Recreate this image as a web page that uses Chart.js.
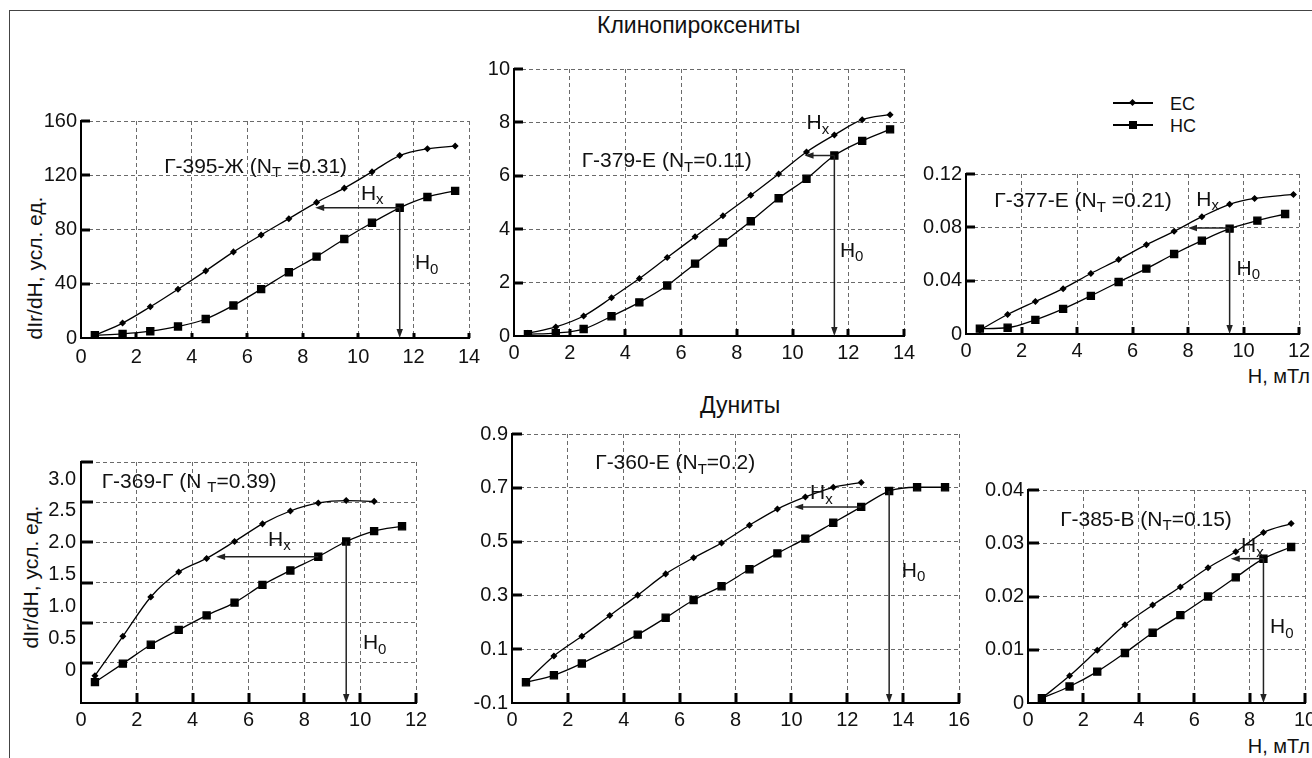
<!DOCTYPE html>
<html>
<head>
<meta charset="utf-8">
<script src="https://cdn.jsdelivr.net/npm/chart.js@4.4.1/dist/chart.umd.min.js"></script>
<style>
html, body { margin: 0; padding: 0; background: #fff; overflow: hidden; }
body { width: 1312px; height: 758px; position: relative; font-family: 'Liberation Sans', Arial, sans-serif; color: #111; }
.frame { position: absolute; left: 9px; top: 10px; right: -5px; bottom: -5px; border-left: 1.5px solid #444; border-top: 1.5px solid #444; }
canvas.p { position: absolute; }
.t { position: absolute; white-space: nowrap; line-height: 1; }
.yt { position: absolute; white-space: nowrap; line-height: 1; font-size: 21px; transform: translate(-50%, -50%) rotate(-90deg); }
.lg { position: absolute; height: 1.5px; width: 40px; background: #000; }
.mk { position: absolute; background: #000; }
</style>
</head>
<body>
<div class="frame"></div>
<div class="t" style="left:597px; top:14px; font-size:23px">Клинопироксениты</div>
<div class="t" style="left:700px; top:394px; font-size:23px">Дуниты</div>
<div class="yt" style="left:34px; top:268px">dIr/dH, усл. ед.</div>
<div class="yt" style="left:30px; top:577px">dIr/dH, усл. ед.</div>
<div class="t" style="right:2px; top:366px; font-size:20px">Н, мТл</div>
<div class="t" style="right:2px; top:736px; font-size:20px">Н, мТл</div>

<!-- legend -->
<div class="lg" style="left:1113px; top:102px"></div>
<div class="mk" style="left:1130px; top:99.5px; width:5px; height:5px; transform:rotate(45deg)"></div>
<div class="t" style="left:1170px; top:95px; font-size:18px">ЕС</div>
<div class="lg" style="left:1113px; top:124px"></div>
<div class="mk" style="left:1129px; top:121px; width:8px; height:8px"></div>
<div class="t" style="left:1170px; top:117px; font-size:18px">НС</div>

<script>
// --- данные: H (мТл) и dIr/dH для ЕС и НС ---
// Г-395-Ж
const hEc1 = [0.5, 1.5, 2.5, 3.5, 4.5, 5.5, 6.5, 7.5, 8.5, 9.5, 10.5, 11.5, 12.5, 13.5];
const ec1 = [2, 11, 23, 36, 49.5, 63.5, 76, 88, 100, 110.5, 122.5, 134.5, 139.5, 141.5];
const hNc1 = [0.5, 1.5, 2.5, 3.5, 4.5, 5.5, 6.5, 7.5, 8.5, 9.5, 10.5, 11.5, 12.5, 13.5];
const nc1 = [2, 3, 5, 8.5, 14, 24, 36, 48.5, 60, 73, 85, 96, 104, 108.5];
// Г-379-Е
const hEc2 = [0.5, 1.5, 2.5, 3.5, 4.5, 5.5, 6.5, 7.5, 8.5, 9.5, 10.5, 11.5, 12.5, 13.5];
const ec2 = [0.1, 0.34, 0.75, 1.43, 2.15, 2.94, 3.72, 4.5, 5.27, 6.07, 6.89, 7.53, 8.1, 8.29];
const hNc2 = [0.5, 1.5, 2.5, 3.5, 4.5, 5.5, 6.5, 7.5, 8.5, 9.5, 10.5, 11.5, 12.5, 13.5];
const nc2 = [0.07, 0.11, 0.26, 0.74, 1.26, 1.89, 2.71, 3.5, 4.3, 5.16, 5.89, 6.76, 7.31, 7.74];
// Г-377-Е
const hEc3 = [0.5, 1.5, 2.5, 3.5, 4.5, 5.5, 6.5, 7.5, 8.5, 9.5, 10.4, 11.8];
const ec3 = [0.003, 0.0146, 0.0244, 0.034, 0.0454, 0.0558, 0.067, 0.077, 0.088, 0.0973, 0.1017, 0.1047];
const hNc3 = [0.5, 1.5, 2.5, 3.5, 4.5, 5.5, 6.5, 7.5, 8.5, 9.5, 10.5, 11.5];
const nc3 = [0.004, 0.0047, 0.0106, 0.0188, 0.0286, 0.039, 0.049, 0.06, 0.07, 0.079, 0.085, 0.09];
// Г-369-Г
const hEc4 = [0.5, 1.5, 2.5, 3.5, 4.5, 5.5, 6.5, 7.5, 8.5, 9.5, 10.5];
const ec4 = [0.34, 0.83, 1.32, 1.63, 1.8, 2.01, 2.23, 2.39, 2.49, 2.52, 2.51];
const hNc4 = [0.5, 1.5, 2.5, 3.5, 4.5, 5.5, 6.5, 7.5, 8.5, 9.5, 10.5, 11.5];
const nc4 = [0.26, 0.49, 0.725, 0.91, 1.09, 1.25, 1.47, 1.65, 1.82, 2.01, 2.14, 2.2];
// Г-360-Е
const hEc5 = [0.5, 1.5, 2.5, 3.5, 4.5, 5.5, 6.5, 7.5, 8.5, 9.5, 10.5, 11.5, 12.5];
const ec5 = [-0.023, 0.075, 0.148, 0.225, 0.301, 0.38, 0.44, 0.495, 0.561, 0.621, 0.666, 0.702, 0.72];
const hNc5 = [0.5, 1.5, 2.5, 4.5, 5.5, 6.5, 7.5, 8.5, 9.5, 10.5, 11.5, 12.5, 13.5, 14.5, 15.5];
const nc5 = [-0.023, 0.003, 0.047, 0.154, 0.217, 0.283, 0.334, 0.397, 0.456, 0.511, 0.57, 0.629, 0.688, 0.702, 0.702];
// Г-385-В
const hEc6 = [0.5, 1.5, 2.5, 3.5, 4.5, 5.5, 6.5, 7.5, 8.5, 9.5];
const ec6 = [0.0009, 0.0051, 0.0099, 0.0147, 0.0184, 0.0218, 0.0254, 0.0284, 0.032, 0.0337];
const hNc6 = [0.5, 1.5, 2.5, 3.5, 4.5, 5.5, 6.5, 7.5, 8.5, 9.5];
const nc6 = [0.0009, 0.0031, 0.0059, 0.0094, 0.0132, 0.0165, 0.02, 0.0236, 0.0271, 0.0293];

// стрелки Hx и H0: [x0, y0, x1, y1] в единицах данных
const arrows1 = [[11.5, 96, 8.45, 96], [11.5, 96, 11.5, 0]];
const arrows2 = [[11.5, 6.76, 10.43, 6.76], [11.5, 6.76, 11.5, 0]];
const arrows3 = [[9.5, 0.0795, 8.0, 0.0795], [9.5, 0.0795, 9.5, 0]];
const arrows4 = [[8.5, 1.82, 4.84, 1.82], [9.5, 2.01, 9.5, 0]];
const arrows5 = [[12.5, 0.629, 10.1, 0.629], [13.5, 0.688, 13.5, -0.1]];
const arrows6 = [[8.5, 0.0271, 7.32, 0.0271], [8.5, 0.0271, 8.5, 0]];

Chart.defaults.font.family = "'Liberation Sans', Arial, sans-serif";
Chart.defaults.font.size = 20;
Chart.defaults.color = '#111';

const YW = 80, PT = 14, PR = 20, XH = 34;

function pts(xs, ys) {
  return xs.map((x, i) => ({ x: x, y: ys[i] }));
}

// короткие риски внутрь поля графика
const inTicks = {
  id: 'inTicks',
  afterDraw(chart, args, o) {
    const ctx = chart.ctx, a = chart.chartArea;
    const sx = chart.scales.x, sy = chart.scales.y;
    ctx.save();
    ctx.strokeStyle = '#000';
    ctx.lineWidth = 3;
    sx.ticks.forEach(t => {
      if (t.value === sx.min) return;
      const p = Math.round(sx.getPixelForValue(t.value));
      ctx.beginPath(); ctx.moveTo(p, a.bottom); ctx.lineTo(p, a.bottom - o.x); ctx.stroke();
    });
    sy.ticks.forEach(t => {
      if (t.value === sy.min) return;
      const p = Math.round(sy.getPixelForValue(t.value));
      ctx.beginPath(); ctx.moveTo(a.left, p); ctx.lineTo(a.left + o.y, p); ctx.stroke();
    });
    ctx.restore();
  }
};

// подписи и стрелки
const notes = {
  id: 'notes',
  afterDatasetsDraw(chart, args, o) {
    const ctx = chart.ctx, sx = chart.scales.x, sy = chart.scales.y;
    ctx.save();
    ctx.strokeStyle = '#222';
    ctx.fillStyle = '#222';
    ctx.lineWidth = 1.5;
    (o.arrows || []).forEach(([x0, y0, x1, y1]) => {
      const X0 = sx.getPixelForValue(x0), Y0 = sy.getPixelForValue(y0);
      const X1 = sx.getPixelForValue(x1), Y1 = sy.getPixelForValue(y1);
      const ang = Math.atan2(Y1 - Y0, X1 - X0);
      ctx.beginPath(); ctx.moveTo(X0, Y0); ctx.lineTo(X1 - 6 * Math.cos(ang), Y1 - 6 * Math.sin(ang)); ctx.stroke();
      ctx.beginPath();
      ctx.moveTo(X1, Y1);
      ctx.lineTo(X1 - 9 * Math.cos(ang) + 3.2 * Math.sin(ang), Y1 - 9 * Math.sin(ang) - 3.2 * Math.cos(ang));
      ctx.lineTo(X1 - 9 * Math.cos(ang) - 3.2 * Math.sin(ang), Y1 - 9 * Math.sin(ang) + 3.2 * Math.cos(ang));
      ctx.closePath(); ctx.fill();
    });
    ctx.fillStyle = '#111';
    ctx.textBaseline = 'middle';
    (o.texts || []).forEach(t => {
      let x = sx.getPixelForValue(t.x);
      const y = sy.getPixelForValue(t.y);
      t.parts.forEach(([s, sub]) => {
        ctx.font = (sub ? 15 : 21) + "px 'Liberation Sans', Arial, sans-serif";
        ctx.fillText(s, x, sub ? y + 6 : y);
        x += ctx.measureText(s).width;
      });
    });
    ctx.restore();
  }
};

function series(label, data, style, r) {
  return {
    label: label, data: data,
    borderColor: '#000', backgroundColor: '#000', borderWidth: 1.3,
    pointStyle: style, pointRadius: r, pointHoverRadius: r,
    cubicInterpolationMode: 'monotone', spanGaps: true
  };
}

function xScale(max, pad) {
  return {
    type: 'linear', min: 0, max: max,
    ticks: { stepSize: 2, padding: pad, maxRotation: 0, autoSkip: false },
    grid: { color: '#6a6a6a', lineWidth: 1, drawTicks: false },
    border: { color: '#000', width: 2, dash: [4, 3] },
    afterFit: s => { s.height = XH; }
  };
}

function yScale(min, max, step) {
  return {
    type: 'linear', min: min, max: max,
    ticks: { stepSize: step, padding: 4, autoSkip: false },
    grid: { color: '#6a6a6a', lineWidth: 1, drawTicks: false },
    border: { color: '#000', width: 2, dash: [4, 3] },
    afterFit: s => { s.width = YW; }
  };
}

function panel(area, scales, datasets, tickLen, arrows, texts) {
  const [cl, ct, cr, cb] = area;
  const cv = document.createElement('canvas');
  cv.className = 'p';
  cv.width = cr - cl + YW + PR;
  cv.height = cb - ct + PT + XH;
  cv.style.left = (cl - YW) + 'px';
  cv.style.top = (ct - PT) + 'px';
  document.body.appendChild(cv);
  return new Chart(cv, {
    type: 'line',
    data: { datasets: datasets },
    options: {
      responsive: false,
      animation: false,
      layout: { padding: { top: PT, right: PR, left: 0, bottom: 0 } },
      scales: scales,
      plugins: {
        legend: { display: false },
        tooltip: { enabled: false },
        inTicks: tickLen,
        notes: { arrows: arrows, texts: texts }
      }
    },
    plugins: [inTicks, notes]
  });
}

function ecnc(hE, e, hN, n) {
  return [series('ЕС', pts(hE, e), 'rectRot', 2.6), series('НС', pts(hN, n), 'rect', 5)];
}

// Г-395-Ж
panel([81, 119, 469, 338],
  { x: xScale(14, 7), y: yScale(0, 160, 40) },
  ecnc(hEc1, ec1, hNc1, nc1), { x: 5, y: 9 }, arrows1,
  [{ x: 3.0, y: 126, parts: [['Г-395-Ж (N', false], ['T', true], [' =0.31)', false]] },
   { x: 10.1, y: 106, parts: [['H', false], ['x', true]] },
   { x: 12.05, y: 55, parts: [['H', false], ['0', true]] }]);

// Г-379-Е
panel([514, 67, 904, 336],
  { x: xScale(14, 5), y: yScale(0, 10, 2) },
  ecnc(hEc2, ec2, hNc2, nc2), { x: 7, y: 9 }, arrows2,
  [{ x: 2.43, y: 6.53, parts: [['Г-379-Е (N', false], ['T', true], ['=0.11)', false]] },
   { x: 10.5, y: 7.96, parts: [['H', false], ['x', true]] },
   { x: 11.7, y: 3.19, parts: [['H', false], ['0', true]] }]);

// Г-377-Е
panel([966, 172, 1299, 334],
  { x: xScale(12, 5), y: yScale(0, 0.12, 0.04) },
  ecnc(hEc3, ec3, hNc3, nc3), { x: 7, y: 9 }, arrows3,
  [{ x: 1.02, y: 0.0993, parts: [['Г-377-Е (N', false], ['T', true], [' =0.21)', false]] },
   { x: 8.3, y: 0.1005, parts: [['H', false], ['x', true]] },
   { x: 9.75, y: 0.0487, parts: [['H', false], ['0', true]] }]);

// Г-369-Г: сетка по оси y, подписи на отдельной оси yl
const y4 = yScale(0, 3, 0.5);
y4.weight = 0;
y4.ticks.display = false;
y4.afterFit = s => { s.width = 0; };
panel([81, 459, 416, 703],
  {
    x: xScale(12, 5),
    y: y4,
    yl: {
      type: 'linear', position: 'left', weight: 1, min: -0.517, max: 3.269,
      ticks: { stepSize: 0.5, includeBounds: false, padding: 5, autoSkip: false,
        callback: v => (v < 0 ? '' : (v === 0 ? '0' : v.toFixed(1))) },
      grid: { display: false, drawTicks: false },
      border: { display: false },
      afterFit: s => { s.width = YW; }
    }
  },
  ecnc(hEc4, ec4, hNc4, nc4), { x: 10, y: 12 }, arrows4,
  [{ x: 0.74, y: 2.75, parts: [['Г-369-Г (N ', false], ['T', true], ['=0.39)', false]] },
   { x: 6.7, y: 2.03, parts: [['H', false], ['x', true]] },
   { x: 10.1, y: 0.74, parts: [['H', false], ['0', true]] }]);

// Г-360-Е
panel([512, 432, 959, 703],
  { x: xScale(16, 5), y: yScale(-0.1, 0.9, 0.2) },
  ecnc(hEc5, ec5, hNc5, nc5), { x: 10, y: 10 }, arrows5,
  [{ x: 2.98, y: 0.79, parts: [['Г-360-Е (N', false], ['T', true], ['=0.2)', false]] },
   { x: 10.67, y: 0.679, parts: [['H', false], ['x', true]] },
   { x: 13.95, y: 0.391, parts: [['H', false], ['0', true]] }]);

// Г-385-В
panel([1028, 488, 1305, 703],
  { x: xScale(10, 5), y: yScale(0, 0.04, 0.01) },
  ecnc(hEc6, ec6, hNc6, nc6), { x: 10, y: 11 }, arrows6,
  [{ x: 1.16, y: 0.0343, parts: [['Г-385-В (N', false], ['T', true], ['=0.15)', false]] },
   { x: 7.69, y: 0.0294, parts: [['H', false], ['x', true]] },
   { x: 8.74, y: 0.0142, parts: [['H', false], ['0', true]] }]);
</script>
</body>
</html>
